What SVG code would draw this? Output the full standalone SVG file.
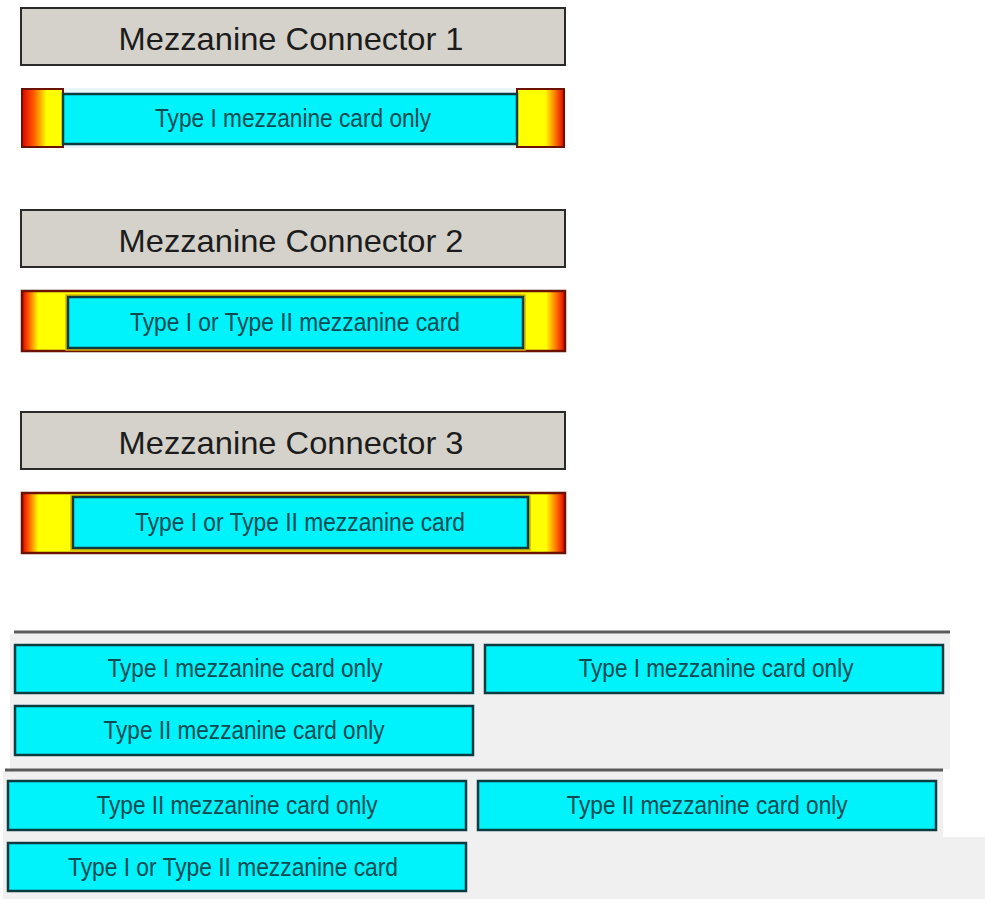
<svg xmlns="http://www.w3.org/2000/svg" width="985" height="899" viewBox="0 0 985 899">
<defs>
<linearGradient id="bar" x1="0" y1="0" x2="1" y2="0">
<stop offset="0" stop-color="#e00000"/>
<stop offset="0.012" stop-color="#ff5a00"/>
<stop offset="0.03" stop-color="#ffff00"/>
<stop offset="0.965" stop-color="#ffff00"/>
<stop offset="0.985" stop-color="#ff6a00"/>
<stop offset="1" stop-color="#e00000"/>
</linearGradient>
<linearGradient id="endL" x1="0" y1="0" x2="1" y2="0">
<stop offset="0" stop-color="#e00000"/>
<stop offset="0.3" stop-color="#ff6000"/>
<stop offset="0.6" stop-color="#ffff00"/>
<stop offset="1" stop-color="#ffff00"/>
</linearGradient>
<linearGradient id="endR" x1="0" y1="0" x2="1" y2="0">
<stop offset="0" stop-color="#ffff00"/>
<stop offset="0.6" stop-color="#ffff00"/>
<stop offset="0.8" stop-color="#ff8000"/>
<stop offset="1" stop-color="#e00000"/>
</linearGradient>
</defs>
<style>
.hdr{fill:#d5d2cc;stroke:#2a2a2a;stroke-width:2}
.htx{font-family:"Liberation Sans",Arial,sans-serif;font-size:32px;fill:#1c1c1c;text-anchor:middle}
.card{fill:#00f2fa;stroke:#0c3c42;stroke-width:2.5}
.ctx{font-family:"Liberation Sans",Arial,sans-serif;font-size:25px;fill:#0c4a52;text-anchor:middle}
.outer{fill:url(#bar);stroke:#6b1200;stroke-width:2.5}
.end{stroke:#6b1200;stroke-width:2}
.rule{stroke:#5a5a5a;stroke-width:3}
.panel{fill:#f0f0f0}
</style>
<rect width="985" height="899" fill="#ffffff"/>

<g id="connector1">
<rect class="hdr" x="21" y="8" width="544" height="57"/>
<text class="htx" x="291" y="50" textLength="345" lengthAdjust="spacingAndGlyphs">Mezzanine Connector 1</text>
</g>
<g id="slot1">
<rect x="21" y="88" width="544" height="60" fill="#e8f6fa"/>
<rect class="end" x="22" y="89" width="41" height="58" fill="url(#endL)"/>
<rect class="end" x="517" y="89" width="47" height="58" fill="url(#endR)"/>
<rect class="card" x="63" y="94" width="454" height="50"/>
<text class="ctx" x="293" y="127" textLength="276" lengthAdjust="spacingAndGlyphs">Type I mezzanine card only</text>
</g>

<g id="connector2">
<rect class="hdr" x="21" y="210" width="544" height="57"/>
<text class="htx" x="291" y="252" textLength="345" lengthAdjust="spacingAndGlyphs">Mezzanine Connector 2</text>
</g>
<g id="slot2">
<rect class="outer" x="22" y="291" width="543" height="60"/>
<rect x="66" y="295" width="459" height="55" fill="none" stroke="#d8b000" stroke-width="1.5"/>
<rect class="card" x="68" y="297" width="455" height="51"/>
<text class="ctx" x="295" y="331" textLength="330" lengthAdjust="spacingAndGlyphs">Type I or Type II mezzanine card</text>
</g>

<g id="connector3">
<rect class="hdr" x="21" y="412" width="544" height="57"/>
<text class="htx" x="291" y="454" textLength="345" lengthAdjust="spacingAndGlyphs">Mezzanine Connector 3</text>
</g>
<g id="slot3">
<rect class="outer" x="22" y="493" width="543" height="60"/>
<rect x="71" y="496" width="459" height="54" fill="none" stroke="#d8b000" stroke-width="1.5"/>
<rect class="card" x="73" y="497" width="455" height="51"/>
<text class="ctx" x="300" y="531" textLength="330" lengthAdjust="spacingAndGlyphs">Type I or Type II mezzanine card</text>
</g>

<g id="panel1">
<rect class="panel" x="10" y="634" width="940" height="135"/>
<line class="rule" x1="14" y1="632" x2="950" y2="632"/>
</g>
<g id="panel2">
<rect class="panel" x="3" y="771" width="940" height="66"/>
<rect class="panel" x="3" y="836" width="982" height="63"/>
<rect x="943" y="771" width="42" height="66" fill="#ffffff"/>
<line class="rule" x1="5" y1="770" x2="943" y2="770"/>
</g>

<g id="cardA">
<rect class="card" x="15" y="645" width="458" height="48"/>
<text class="ctx" x="245" y="677" textLength="275" lengthAdjust="spacingAndGlyphs">Type I mezzanine card only</text>
</g>
<g id="cardB">
<rect class="card" x="485" y="645" width="458" height="48"/>
<text class="ctx" x="716" y="677" textLength="275" lengthAdjust="spacingAndGlyphs">Type I mezzanine card only</text>
</g>
<g id="cardC">
<rect class="card" x="15" y="706" width="458" height="49"/>
<text class="ctx" x="244" y="739" textLength="281" lengthAdjust="spacingAndGlyphs">Type II mezzanine card only</text>
</g>
<g id="cardD">
<rect class="card" x="8" y="781" width="458" height="49"/>
<text class="ctx" x="237" y="814" textLength="281" lengthAdjust="spacingAndGlyphs">Type II mezzanine card only</text>
</g>
<g id="cardE">
<rect class="card" x="478" y="781" width="458" height="49"/>
<text class="ctx" x="707" y="814" textLength="281" lengthAdjust="spacingAndGlyphs">Type II mezzanine card only</text>
</g>
<g id="cardF">
<rect class="card" x="8" y="843" width="458" height="48"/>
<text class="ctx" x="233" y="876" textLength="330" lengthAdjust="spacingAndGlyphs">Type I or Type II mezzanine card</text>
</g>
<g id="connectors"/>
</svg>
